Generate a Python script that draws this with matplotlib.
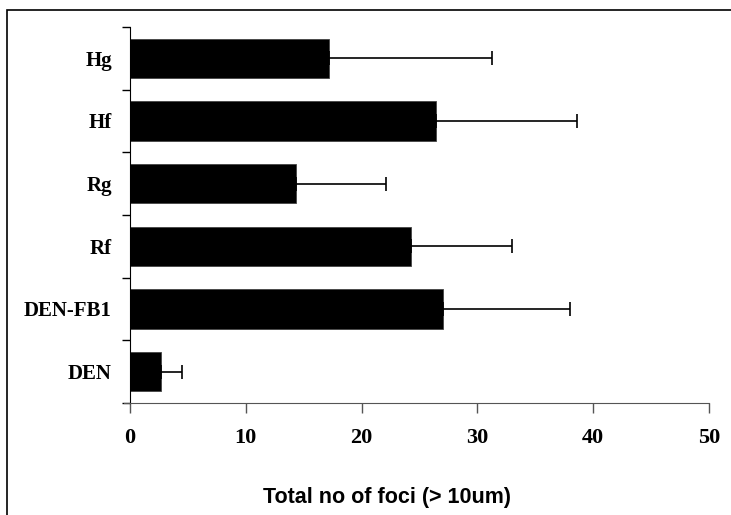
import matplotlib.pyplot as plt
from matplotlib.patches import Rectangle

# data (bottom to top)
groups = ["DEN", "DEN-FB1", "Rf", "Rg", "Hf", "Hg"]
foci = [2.7, 27.0, 24.3, 14.3, 26.4, 17.2]
err = [1.8, 11.0, 8.7, 7.8, 12.2, 14.1]

W, H = 731, 515
fig = plt.figure(figsize=(W / 100, H / 100), dpi=100)
ax = fig.add_axes([130 / W, 1 - 403 / H, (709 - 130) / W, (403 - 27) / H])

pos = list(range(len(groups)))
ax.barh(pos, foci, height=0.63, color="black", edgecolor="#444444", linewidth=0.6)
ax.errorbar(foci, pos, xerr=[[0] * len(err), err], fmt="none", ecolor="black",
            elinewidth=1.2, capsize=5, capthick=1.2)

ax.set_xlim(0, 50)
ax.set_ylim(-0.5, len(groups) - 0.5)

ax.set_xticks([0, 10, 20, 30, 40, 50])
ax.set_yticks([p - 0.5 for p in pos] + [len(groups) - 0.5])
ax.set_yticklabels([])
ax.set_yticks(pos, minor=True)
ax.set_yticklabels(groups, minor=True)

ax.tick_params(axis="y", which="major", direction="out", length=6, width=1, color="black")
ax.tick_params(axis="y", which="minor", length=0, pad=13)
ax.tick_params(axis="x", direction="out", length=7, width=1, color="#555555", pad=11)

for lab in ax.get_xticklabels():
    lab.set_fontfamily("Liberation Serif")
    lab.set_fontweight("bold")
    lab.set_fontsize(16)
for lab in ax.get_yticklabels(minor=True):
    lab.set_fontfamily("Liberation Serif")
    lab.set_fontweight("bold")
    lab.set_fontsize(15)

for s in ["top", "right"]:
    ax.spines[s].set_visible(False)
ax.spines["left"].set_color("black")
ax.spines["bottom"].set_color("#555555")
ax.spines["bottom"].set_bounds(-0.5, 50)

fig.text(387 / W, 1 - 498 / H, "Total no of foci (> 10um)", ha="center", va="center",
         fontfamily="Liberation Sans", fontweight="bold", fontsize=15.5)

fig.patches.append(Rectangle((7 / W, -0.1), 1.2, 1.1 - 10 / H, transform=fig.transFigure,
                             fill=False, edgecolor="black", linewidth=1.2))

fig.savefig("out.png", dpi=100)
